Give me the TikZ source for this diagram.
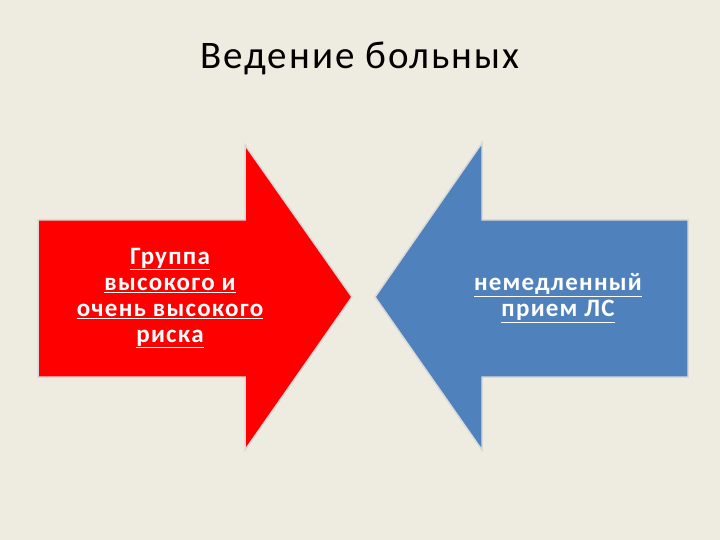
\documentclass[tikz,border=0pt]{standalone}
\usepackage{fontspec}
\setmainfont{Carlito}[LetterSpace=5]
\begin{document}
\begin{tikzpicture}[x=1pt,y=-1pt,
  arr/.style={draw=white!85!black,line width=1.5pt},
  lbl/.style={text=white,font=\fontsize{25}{26}\selectfont\bfseries,align=center}]
\definecolor{bg}{HTML}{EEEBE0}
\definecolor{blu}{HTML}{4F81BD}
\fill[bg] (0,0) rectangle (720,540);
\useasboundingbox (0,0) rectangle (720,540);
\node (title) at (360,58) {\fontsize{39}{44}\selectfont Ведение больных};
\draw[arr,fill=red] (38,220) -- (245,220) -- (245,145) -- (352,297) -- (245,450) -- (245,377) -- (38,377) -- cycle;
\draw[arr,fill=blu] (688,220) -- (482,220) -- (482,143) -- (375,297) -- (482,450) -- (482,377) -- (688,377) -- cycle;
\node[lbl] (left) at (170,298) {\underline{Группа}\\\underline{высокого и}\\\underline{очень высокого}\\\underline{риска}};
\node[lbl] (right) at (558,298) {\underline{немедленный}\\\underline{прием ЛС}};
\end{tikzpicture}
\end{document}
